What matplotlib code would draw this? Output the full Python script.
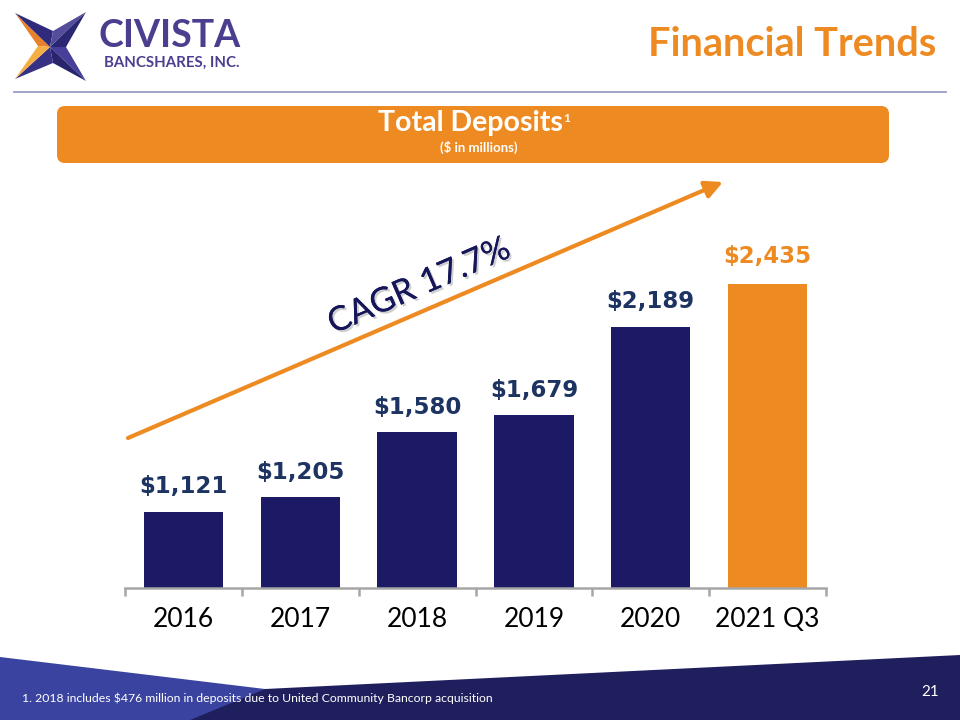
import matplotlib
matplotlib.use("Agg")
import matplotlib.pyplot as plt
from matplotlib.patches import Polygon, FancyBboxPatch, FancyArrowPatch
import matplotlib.patheffects as pe

# ---- data ----
categories = ["2016", "2017", "2018", "2019", "2020", "2021 Q3"]
deposits = [1121, 1205, 1580, 1679, 2189, 2435]
value_labels = ["$1,121", "$1,205", "$1,580", "$1,679", "$2,189", "$2,435"]
cagr_text = "CAGR 17.7%"
title_text = "Financial Trends"
header_title = "Total Deposits"
header_sub = "($ in millions)"
footnote = "1. 2018 includes $476 million in deposits due to United Community Bancorp acquisition"
page_no = "21"

NAVY = "#1c1a64"
LABEL_NAVY = "#1d3361"
ORANGE = "#ee8a22"
PURPLE = "#4a3f8f"

W, H = 960, 720
fig = plt.figure(figsize=(9.6, 7.2), dpi=100)
fig.patch.set_facecolor("white")

# background / decoration axes in pixel coordinates
bg = fig.add_axes([0, 0, 1, 1])
bg.set_xlim(0, W)
bg.set_ylim(H, 0)
bg.axis("off")

# logo star
cx, cy = 50, 47
tips = {"TL": (15, 13), "TR": (86, 12), "BR": (86, 81), "BL": (15, 79)}
notches = {"T": (53, 31), "R": (66, 47), "B": (53, 63), "L": (38, 46)}
arms = [
    ("TL", "L", "#e8822a"), ("TL", "T", "#2f2a7c"),
    ("TR", "T", "#534d9c"), ("TR", "R", "#2b2772"),
    ("BR", "R", "#46409a"), ("BR", "B", "#28256c"),
    ("BL", "B", "#373186"), ("BL", "L", "#f5ae44"),
]
for tip, notch, col in arms:
    bg.add_patch(Polygon([tips[tip], notches[notch], (cx, cy)], closed=True,
                         facecolor=col, edgecolor="none"))
bg.text(99, 36, "CIVISTA", fontsize=27, fontweight="bold", color=PURPLE,
        family="Lato", ha="left", va="center")
bg.text(104, 63, "BANCSHARES, INC.", fontsize=10.8, fontweight="bold",
        color=PURPLE, family="Lato", ha="left", va="center")

# title
bg.text(936, 44, title_text, fontsize=28.5, fontweight="bold", color=ORANGE,
        family="Lato", ha="right", va="center")

# separator line
bg.plot([14, 946], [92, 92], color="#8f93c2", lw=1.2)

# header box
bg.add_patch(FancyBboxPatch((57, 106), 832, 57,
                            boxstyle="round,pad=0,rounding_size=8",
                            facecolor=ORANGE, edgecolor="none"))
bg.text(470, 123, header_title, fontsize=20.5, fontweight="bold", color="white",
        family="Lato", ha="center", va="center")
bg.text(563, 119, "1", fontsize=8.5, fontweight="bold", color="white",
        family="Lato", ha="left", va="center")
bg.text(479, 147, header_sub, fontsize=9.5, fontweight="bold", color="white",
        family="Lato", ha="center", va="center")

# footer
bg.add_patch(Polygon([(265, 689), (960, 655), (960, 720), (0, 720), (0, 700)],
                     closed=True, facecolor="#201f5e", edgecolor="none"))
bg.add_patch(Polygon([(0, 657), (265, 689), (190, 720), (0, 720)],
                     closed=True, facecolor="#3a44a0", edgecolor="none"))
bg.text(22, 698, footnote, fontsize=8.8, color="white", family="Lato",
        ha="left", va="center")
bg.text(930, 692, page_no, fontsize=11, color="white", family="Lato",
        ha="center", va="center")

# growth arrow + CAGR text
arrow = FancyArrowPatch((128, 438), (723, 182), arrowstyle="-|>,head_length=7,head_width=3.5",
                        mutation_scale=1.5, color=ORANGE, lw=3, shrinkA=0, shrinkB=0)
bg.add_patch(arrow)
bg.text(419, 286, cagr_text, fontsize=24.5, color="#16165a", family="Lato",
        rotation=23.5, rotation_mode="anchor", ha="center", va="center",
        path_effects=[pe.withSimplePatchShadow(offset=(1.5, -1.5), shadow_rgbFace="#b0b0b0", alpha=0.6),
                      pe.Normal()])

# ---- bar chart ----
ax = fig.add_axes([125 / W, 1 - 588 / H, 701 / W, (588 - 200) / H])
ax.patch.set_alpha(0)
x = list(range(len(categories)))
colors = [NAVY] * (len(categories) - 1) + [ORANGE]
bars = ax.bar(x, deposits, width=0.68, color=colors, bottom=0, zorder=2)
ax.set_xlim(-0.5, len(categories) - 0.5)
ax.set_ylim(683, 2919)

for i, (b, lab) in enumerate(zip(bars, value_labels)):
    col = ORANGE if i == len(categories) - 1 else LABEL_NAVY
    ax.annotate(lab, (b.get_x() + b.get_width() / 2, b.get_height()),
                xytext=(0, 25 if i < len(categories) - 1 else 27),
                textcoords="offset pixels", ha="center", va="center",
                fontsize=16.5, fontweight="bold", color=col, family="DejaVu Sans")

for s in ["top", "right", "left"]:
    ax.spines[s].set_visible(False)
ax.spines["bottom"].set_color("#a6a6a6")
ax.spines["bottom"].set_linewidth(1.8)
ax.set_yticks([])
ax.set_xticks(x)
ax.set_xticklabels(categories, fontsize=19, family="Lato", color="black")
ax.tick_params(axis="x", which="major", length=0, pad=14)
ax.set_xticks([i - 0.5 for i in range(len(categories) + 1)], minor=True)
ax.tick_params(axis="x", which="minor", length=6, width=1.8, color="#a6a6a6")

fig.savefig("out.png", dpi=100)
